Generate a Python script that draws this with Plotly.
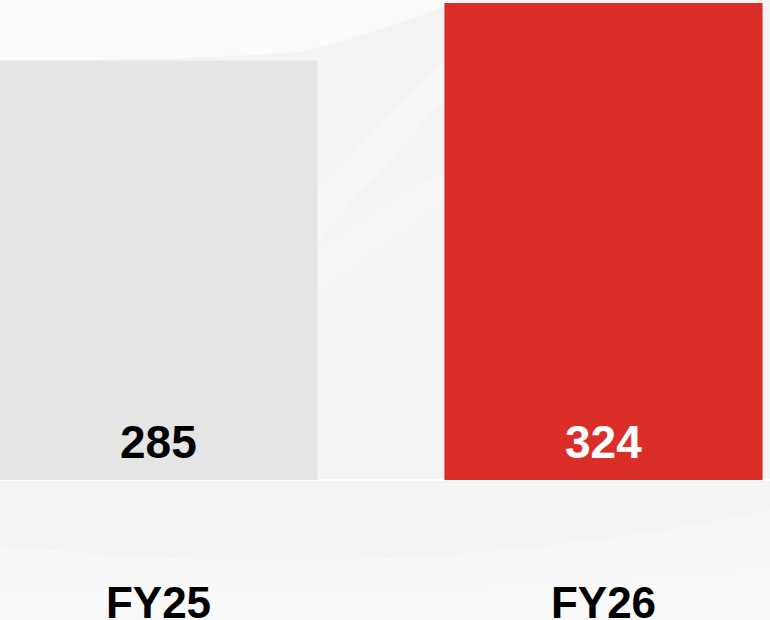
import plotly.graph_objects as go

# ---- data ----
categories = ["FY25", "FY26"]
values = [285, 324]
bar_colors = ["#e5e5e5", "#dc2e28"]
label_colors = ["#000000", "#ffffff"]

W, H = 770, 620
M_B = 47
PLOT_H = H - M_B
FONT = "Liberation Sans, Arial, sans-serif"

def px2paper(px, py):
    return px / W, (PLOT_H - py) / PLOT_H

def path(points, close=True):
    s = ""
    for i, p in enumerate(points):
        if p[0] == "Q":
            (cx, cy), (ex, ey) = p[1], p[2]
            a = px2paper(cx, cy); b = px2paper(ex, ey)
            s += f" Q {a[0]:.4f},{a[1]:.4f} {b[0]:.4f},{b[1]:.4f}"
        else:
            x, y = px2paper(*p)
            s += (" M " if i == 0 else " L ") + f"{x:.4f},{y:.4f}"
    return s + (" Z" if close else "")

fig = go.Figure()
fig.add_trace(go.Bar(
    x=categories, y=values, marker=dict(color=bar_colors, line=dict(width=0)),
    width=0.715, hoverinfo="skip", showlegend=False,
))

for c, v, col in zip(categories, values, label_colors):
    fig.add_annotation(x=c, y=0, xref="x", yref="y", text=str(v), showarrow=False,
                       yanchor="bottom", yshift=10,
                       font=dict(family=FONT, size=46, color=col, weight="bold"))

shapes = [
    # top-left light area
    dict(path=path([(0, 0), (460, 0), ("Q", (390, 30), (300, 52)), ("Q", (150, 62), (0, 60))]),
         fill="rgba(255,255,255,0.6)"),
    # faint diagonal streaks in gap
    dict(path=path([(318, 190), (444, 60), (444, 100), (318, 240)]),
         fill="rgba(255,255,255,0.3)"),
    dict(path=path([(318, 250), (444, 170), (444, 200), (318, 290)]),
         fill="rgba(255,255,255,0.2)"),
    # bottom lighter area
    dict(path=path([(0, 545), ("Q", (400, 588), (770, 510)), (770, 620), (0, 620)]),
         fill="rgba(255,255,255,0.35)"),
    dict(path=path([(0, 585), ("Q", (400, 600), (770, 565)), (770, 620), (0, 620)]),
         fill="rgba(255,255,255,0.2)"),
]
for s in shapes:
    fig.add_shape(type="path", path=s["path"], xref="paper", yref="paper",
                  fillcolor=s["fill"], line=dict(width=0), layer="below")

px_per_unit = 477 / 324
ymax = 480 / px_per_unit
ymin = -(PLOT_H - 480) / px_per_unit
spacing = 445
x0 = -158.5 / spacing
x1 = (W - 158.5) / spacing

fig.update_layout(
    width=W, height=H,
    margin=dict(l=0, r=0, t=0, b=M_B, pad=0),
    paper_bgcolor="#f4f4f4", plot_bgcolor="rgba(0,0,0,0)",
    xaxis=dict(range=[x0, x1], showgrid=False, zeroline=False, showline=False, ticks="",
               automargin=False,
               tickfont=dict(family=FONT, size=44, color="#000000", weight="bold"),
               fixedrange=True),
    yaxis=dict(range=[ymin, ymax], showgrid=False, zeroline=True, zerolinecolor="#ffffff",
               zerolinewidth=2, showticklabels=False, ticks="", showline=False,
               automargin=False, fixedrange=True),
    showlegend=False,
)

fig.write_html("out.html", config={"displayModeBar": False},
               post_script="document.body.style.margin='0';document.body.style.overflow='hidden';")
